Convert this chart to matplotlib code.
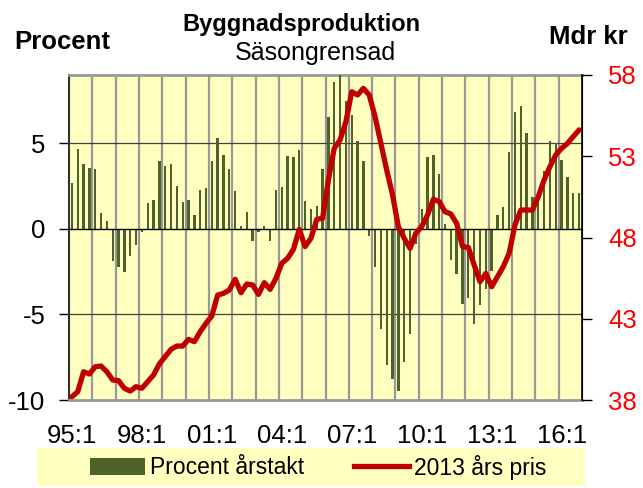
import numpy as np
import matplotlib.pyplot as plt
from matplotlib.patches import Rectangle, Patch
from matplotlib.lines import Line2D

plt.rcParams['font.family'] = ['Liberation Sans', 'DejaVu Sans']

# Quarterly data 95:1 - 16:4
quarters = [f"{y % 100:02d}:{q}" for y in range(1995, 2017) for q in range(1, 5)]

# Procent årstakt (left axis)
pct = [2.68, 4.66, 3.79, 3.55, 3.50, 0.93, 0.49, -1.88,
       -2.21, -2.50, -1.59, -0.95, -0.17, 1.51, 1.71, 3.98,
       3.69, 3.79, 2.52, 1.59, 1.71, 0.80, 2.29, 2.39,
       3.98, 5.34, 4.33, 3.53, 2.19, 0.16, 0.99, -0.72,
       -0.17, 0.16, -0.68, 2.25, 2.47, 4.29, 4.23, 4.60,
       1.63, 1.17, 1.32, 3.50, 6.56, 8.60, 9.40, 7.50,
       6.66, 5.15, 3.98, -0.43, -2.21, -5.86, -7.96, -8.78,
       -9.46, -7.77, -6.12, -0.87, 1.17, 4.23, 4.33, 3.20,
       0.31, -1.79, -2.66, -4.37, -4.02, -5.57, -4.45, -3.50,
       -2.43, 0.83, 1.26, 4.52, 6.85, 7.18, 5.63, 1.86,
       1.90, 3.40, 5.15, 5.05, 4.04, 3.03, 2.10, 2.10]

# 2013 års pris, Mdr kr (right axis)
pris = [38.20, 38.51, 39.74, 39.60, 40.05, 40.09, 39.74, 39.23,
        39.19, 38.72, 38.55, 38.82, 38.72, 39.13, 39.54, 40.22,
        40.67, 41.12, 41.32, 41.32, 41.73, 41.59, 42.20, 42.72,
        43.17, 44.46, 44.56, 44.77, 45.43, 44.60, 45.14, 45.08,
        44.50, 45.22, 44.81, 45.49, 46.41, 46.72, 47.27, 48.50,
        47.44, 47.95, 49.12, 49.18, 51.54, 53.49, 54.00, 55.13,
        56.97, 56.77, 57.18, 56.77, 55.44, 53.79, 52.15, 50.62,
        48.67, 47.95, 47.33, 48.26, 48.67, 49.38, 50.35, 50.21,
        49.59, 49.45, 48.87, 47.44, 47.39, 46.31, 45.28, 45.79,
        44.97, 45.59, 46.21, 47.03, 48.77, 49.69, 49.69, 49.69,
        50.51, 51.54, 52.36, 53.08, 53.49, 53.79, 54.21, 54.62]

bar_color = '#4F6228'
line_color = '#C00000'
bg = '#FFFFC0'

fig = plt.figure(figsize=(6.43, 4.88), dpi=100)
ax = fig.add_axes([69/643, 1 - 400/488, 513/643, 325/488])
ax.set_facecolor(bg)

x = np.arange(len(quarters))
ax.bar(x, pct, width=0.4, color=bar_color, zorder=3)
ax.set_xlim(-0.5, len(quarters) - 0.5)
ax.set_ylim(-10, 9)
ax.set_yticks([-10, -5, 0, 5])
ax.set_yticklabels(['-10', '-5', '0', '5'], fontsize=18.5)
ax.tick_params(axis='y', direction='out', length=7, width=1, pad=10)

# year gridlines
for k in range(1, 22):
    ax.axvline(-0.5 + 4 * k, color='#999999', lw=1.6, zorder=1)
for v in [5, -5]:
    ax.axhline(v, color='#404040', lw=0.9, zorder=2)
ax.axhline(0, color='black', lw=1.0, zorder=4)

ax.set_xticks(x[::12])
ax.set_xticklabels(quarters[::12], fontsize=18.5)
ax.tick_params(axis='x', length=0, pad=17)

for s in ['top', 'bottom']:
    ax.spines[s].set_color('#999999')
    ax.spines[s].set_linewidth(2)
ax.spines['left'].set_color('#333333')
ax.spines['left'].set_linewidth(1.5)

ax2 = ax.twinx()
ax2.plot(x, pris, color=line_color, lw=3.8, zorder=5, solid_capstyle='round')
ax2.set_ylim(38, 58)
ax2.set_yticks([38, 43, 48, 53, 58])
ax2.set_yticklabels(['38', '43', '48', '53', '58'], fontsize=18.5, color='#FF0000')
ax2.tick_params(axis='y', direction='out', length=7, width=1, pad=12)
ax2.spines['right'].set_color('black')
ax2.spines['right'].set_linewidth(1.2)
for s in ['top', 'bottom', 'left']:
    ax2.spines[s].set_visible(False)

fig.text(301/643, 1 - 24/488, 'Byggnadsproduktion', ha='center', va='center',
         fontsize=17, fontweight='bold')
fig.text(315/643, 1 - 53/488, 'Säsongrensad', ha='center', va='center', fontsize=18)
fig.text(62/643, 1 - 42/488, 'Procent', ha='center', va='center',
         fontsize=18.5, fontweight='bold')
fig.text(588/643, 1 - 37/488, 'Mdr kr', ha='center', va='center',
         fontsize=18.5, fontweight='bold')

fig.patches.append(Rectangle((37/643, 2/488), 548/643, 38/488, transform=fig.transFigure,
                             facecolor=bg, edgecolor='none', zorder=0))
handles = [Patch(facecolor=bar_color, edgecolor='none'),
           Line2D([], [], color=line_color, lw=3.8)]
fig.legend(handles, ['Procent årstakt', '2013 års pris'], loc='center',
           bbox_to_anchor=(318/643, 21/488), ncol=2, frameon=False, fontsize=16.5,
           handlelength=2.4, handletextpad=0.2, columnspacing=2.2)

fig.savefig('out.png', dpi=100)
